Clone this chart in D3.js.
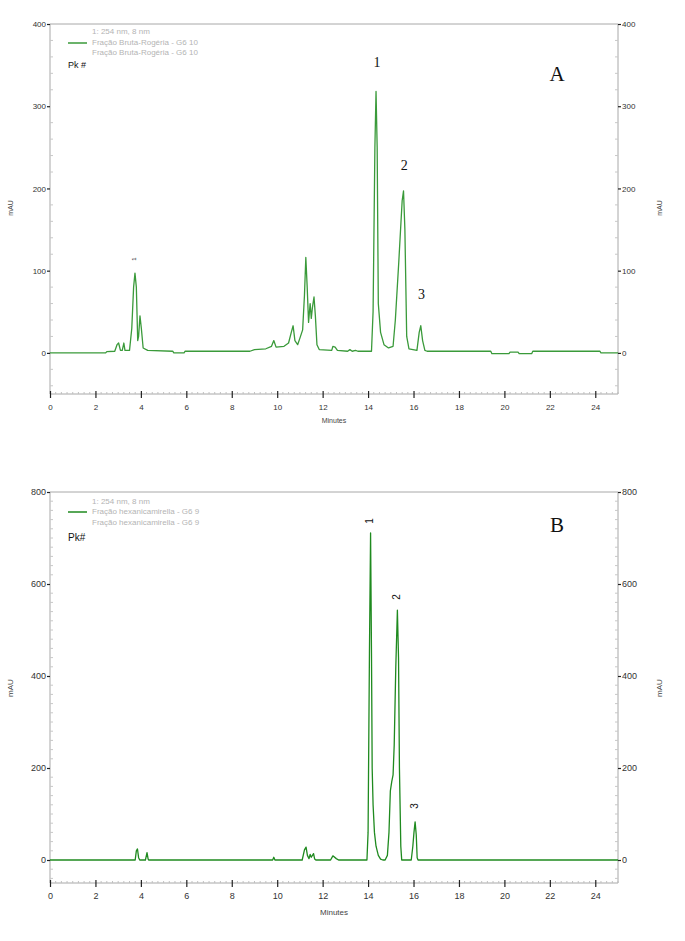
<!DOCTYPE html>
<html><head><meta charset="utf-8">
<script src="https://cdn.jsdelivr.net/npm/d3@7"></script>
<style>body{margin:0;background:#fff}svg{display:block}</style>
</head><body>
<svg id="c" width="685" height="941"></svg>
<script>
// ---------- data ----------
const timesA = [0,2.45,2.5,2.85,2.95,3.02,3.1,3.18,3.25,3.3,3.5,3.6,3.68,3.74,3.8,3.86,3.9,3.96,4.02,4.1,4.3,5.4,5.45,5.9,5.95,8.8,9.0,9.5,9.75,9.85,9.95,10.3,10.5,10.62,10.7,10.78,10.9,11.0,11.12,11.2,11.26,11.32,11.38,11.45,11.5,11.55,11.62,11.68,11.75,11.85,12.4,12.45,12.55,12.65,13.1,13.2,13.3,13.45,13.55,14.15,14.22,14.3,14.35,14.4,14.45,14.55,14.7,14.9,15.1,15.2,15.35,15.5,15.56,15.62,15.7,15.8,16.15,16.25,16.32,16.4,16.5,16.6,19.4,19.45,20.2,20.25,20.6,20.65,21.2,21.25,24.2,24.25,25];
const valuesA = [0,0,1.5,2,10,12,3,3,12,3,3,30,80,97,80,15,20,45,30,6,3,2,0,0,2,2,4,5,8,15,7,8,12,25,33,15,10,18,28,70,116,80,37,60,42,55,68,45,10,4,3,8,7,3,2,4,2,3,2,2,50,250,318,250,60,25,10,6,8,40,110,185,197,150,20,5,3,25,33,15,3,2,2,-1,-1,1,1,-1,-1,2,2,0,0];
const timesB = [0,3.75,3.8,3.85,3.9,3.95,4.2,4.27,4.32,4.35,9.8,9.85,9.9,11.1,11.2,11.27,11.33,11.4,11.45,11.5,11.6,11.65,11.7,12.35,12.45,12.6,12.7,13.95,14.0,14.06,14.11,14.15,14.18,14.22,14.28,14.35,14.45,14.55,14.65,14.75,14.85,14.92,14.98,15.04,15.1,15.15,15.22,15.29,15.34,15.38,15.44,15.48,15.9,15.97,16.02,16.07,16.12,16.16,16.2,25];
const valuesB = [0,0,20,24,5,0,0,16,2,0,0,6,0,0,22,28,10,3,12,6,14,2,0,0,9,3,0,0,60,450,711,450,200,120,60,30,10,2,0,0,10,60,150,170,185,250,420,543,440,200,30,0,0,30,60,83,55,5,0,0];
const xTicks = [0,2,4,6,8,10,12,14,16,18,20,22,24];
const yTicksA = [0,100,200,300,400];
const yTicksB = [0,200,400,600,800];
const legendA = ["1: 254 nm, 8 nm","Fração Bruta-Rogéria - G6 10","Fração Bruta-Rogéria - G6 10"];
const legendB = ["1: 254 nm, 8 nm","Fração hexanicamirella - G6 9","Fração hexanicamirella - G6 9"];
const peakNamesA = ["1","2","3"];
const peakTimesA = [14.35,15.55,16.31];
const peakNamesB = ["1","2","3"];
const peakTimesB = [14.11,15.29,16.07];

// ---------- drawing ----------
const svg = d3.select("#c");
svg.append("rect").attr("width",685).attr("height",941).attr("fill","#fff");

function panel(o){
  const g = svg.append("g");
  const x = d3.scaleLinear().domain([0,25]).range([50,618]);
  const y = d3.scaleLinear().domain([-50,o.ymax]).range([o.bottom,o.top]);
  const axisCol = "#a8a8a8";
  // frame lines
  g.append("line").attr("x1",50).attr("x2",618).attr("y1",o.top).attr("y2",o.top).attr("stroke",axisCol);
  g.append("line").attr("x1",50).attr("x2",50).attr("y1",o.top).attr("y2",o.bottom).attr("stroke",axisCol);
  g.append("line").attr("x1",618).attr("x2",618).attr("y1",o.top).attr("y2",o.bottom).attr("stroke",axisCol);
  // minor y ticks
  const minorY = d3.range(-40,o.ymax,20).filter(v=>!o.yTicks.includes(v));
  minorY.forEach(v=>{
    g.append("line").attr("x1",50).attr("x2",53).attr("y1",y(v)).attr("y2",y(v)).attr("stroke","#c8c8c8");
    g.append("line").attr("x1",615).attr("x2",618).attr("y1",y(v)).attr("y2",y(v)).attr("stroke","#c8c8c8");
  });
  // left axis
  const la = g.append("g").attr("transform","translate(50,0)")
    .call(d3.axisLeft(y).tickValues(o.yTicks).tickSize(3).tickPadding(1).tickFormat(d3.format("d")));
  la.select(".domain").remove();
  la.selectAll(".tick line").attr("stroke","#222").attr("stroke-width",1.2);
  la.selectAll("text").attr("font-family","Liberation Sans, Arial").attr("font-size",o.fs).attr("fill","#333");
  const ra = g.append("g").attr("transform","translate(618,0)")
    .call(d3.axisRight(y).tickValues(o.yTicks).tickSize(3).tickPadding(1).tickFormat(d3.format("d")));
  ra.select(".domain").remove();
  ra.selectAll(".tick line").attr("stroke","#222").attr("stroke-width",1.2);
  ra.selectAll("text").attr("font-family","Liberation Sans, Arial").attr("font-size",o.fs).attr("fill","#333");
  // bottom axis
  g.append("line").attr("x1",50).attr("x2",618).attr("y1",o.bottom).attr("y2",o.bottom).attr("stroke",axisCol);
  d3.range(0,25.01,0.25).filter(v=>Math.abs(v/2-Math.round(v/2))>1e-6).forEach(v=>{
    g.append("line").attr("x1",x(v)).attr("x2",x(v)).attr("y1",o.bottom-2).attr("y2",o.bottom).attr("stroke","#c0c0c0");
  });
  const ba = g.append("g").attr("transform",`translate(0,${o.bottom})`)
    .call(d3.axisBottom(x).tickValues(xTicks).tickSize(4).tickPadding(6).tickFormat(d3.format("d")));
  ba.select(".domain").remove();
  ba.selectAll(".tick line").attr("stroke","#222").attr("stroke-width",1.2).attr("y1",-3);
  ba.selectAll("text").attr("font-family","Liberation Sans, Arial").attr("font-size",o.fs).attr("fill","#333");
  // axis titles
  g.append("text").attr("x",334).attr("y",o.bottom+o.minY).attr("text-anchor","middle")
    .attr("font-family","Liberation Sans, Arial").attr("font-size",o.fs-1).attr("fill","#444").text("Minutes");
  [[11,o.mauY],[660,o.mauY]].forEach(p=>{
    g.append("text").attr("transform",`translate(${p[0]},${p[1]}) rotate(-90)`).attr("text-anchor","middle")
      .attr("dominant-baseline","middle").attr("font-family","Liberation Sans, Arial").attr("font-size",o.fs-1)
      .attr("fill","#444").text("mAU");
  });
  // legend
  g.append("line").attr("x1",68).attr("x2",87).attr("y1",o.top+o.legDy[1]).attr("y2",o.top+o.legDy[1])
    .attr("stroke",o.color).attr("stroke-width",1.5);
  o.legend.forEach((t,i)=>{
    g.append("text").attr("x",92).attr("y",o.top+o.legDy[i]).attr("dominant-baseline","middle")
      .attr("font-family","Liberation Sans, Arial").attr("font-size",o.legFs).attr("fill","#b4b4b4").text(t);
  });
  g.append("text").attr("x",68).attr("y",o.top+o.pkDy).attr("dominant-baseline","middle")
    .attr("font-family","Liberation Sans, Arial").attr("font-size",o.pkFs).attr("fill","#111").text(o.pkText);
  // trace
  const line = d3.line().x(d=>x(d[0])).y(d=>y(d[1]));
  g.append("path").datum(o.times.map((t,i)=>[t,o.values[i]])).attr("d",line)
    .attr("fill","none").attr("stroke",o.color).attr("stroke-width",1.3).attr("stroke-linejoin","round");
  return {g,x,y};
}

// Panel A
const A = panel({top:24,bottom:394,ymax:400,yTicks:yTicksA,fs:8,minY:29,mauY:208,legend:legendA,legDy:[8,19,29],pkDy:42,pkFs:9,pkText:"Pk #",legFs:8,color:"#3a9a3a",times:timesA,values:valuesA});
const labA = [[0,64],[1,167],[2,296]];
labA.forEach(([i,yy],k)=>{
  A.g.append("text").attr("x",A.x(peakTimesA[i])+1).attr("y",yy).attr("text-anchor","middle").attr("dominant-baseline","middle")
    .attr("font-family","Liberation Serif, Times New Roman").attr("font-size",14).attr("fill","#111").text(peakNamesA[i]);
});
A.g.append("text").attr("transform",`translate(134,259) rotate(-90)`).attr("text-anchor","middle").attr("dominant-baseline","middle")
  .attr("font-family","Liberation Sans, Arial").attr("font-size",6).attr("fill","#111").text("1");
A.g.append("text").attr("x",557).attr("y",76).attr("text-anchor","middle").attr("dominant-baseline","middle")
  .attr("font-family","Liberation Serif, Times New Roman").attr("font-size",21).attr("fill","#111").text("A");

// Panel B
const B = panel({top:492,bottom:883,ymax:800,yTicks:yTicksB,fs:9,minY:32,mauY:688,legend:legendB,legDy:[10,20,31],pkDy:46,pkFs:10,pkText:"Pk#",legFs:8,color:"#1f8a1f",times:timesB,values:valuesB});
const labB = [[0,521],[1,597],[2,806]];
labB.forEach(([i,yy])=>{
  B.g.append("text").attr("transform",`translate(${B.x(peakTimesB[i])},${yy}) rotate(-90)`).attr("text-anchor","middle")
    .attr("dominant-baseline","middle").attr("font-family","Liberation Sans, Arial").attr("font-size",10).attr("fill","#111").text(peakNamesB[i]);
});
B.g.append("text").attr("x",557).attr("y",527).attr("text-anchor","middle").attr("dominant-baseline","middle")
  .attr("font-family","Liberation Serif, Times New Roman").attr("font-size",21).attr("fill","#111").text("B");
</script>
</body></html>
